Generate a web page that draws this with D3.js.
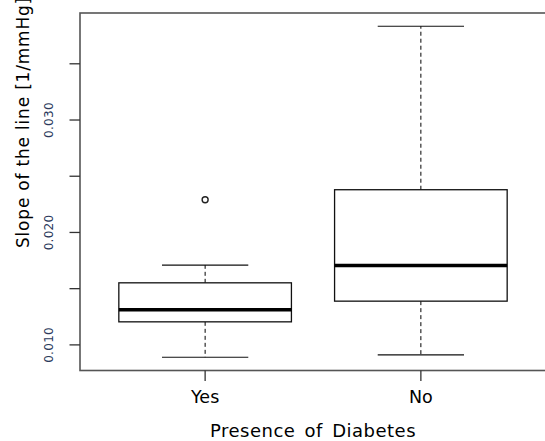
<!DOCTYPE html>
<html>
<head>
<meta charset="utf-8">
<script src="https://cdn.jsdelivr.net/npm/d3@7"></script>
<style>
  body { margin: 0; background: #fff; }
  text { font-family: "DejaVu Sans", sans-serif; }
</style>
</head>
<body>
<div id="chart"></div>
<script>
// data
const categories = ["Yes", "No"];
const whiskerLow = [0.00890, 0.00911];
const q1 = [0.01205, 0.01389];
const median = [0.01312, 0.01706];
const q3 = [0.01552, 0.02380];
const whiskerHigh = [0.01710, 0.03834];
const outliers = [[0.02291], []];
const yTicks = [0.010, 0.015, 0.020, 0.025, 0.030, 0.035];
const yTickLabels = ["0.010", "", "0.020", "", "0.030", ""];

const W = 545, H = 441;
const mLeft = 80, mRight = 546, mTop = 13, mBottom = 370.5;

const svg = d3.select("#chart").append("svg")
  .attr("width", W)
  .attr("height", H);

// R style: 4% padding on both axes
const lo = d3.min(whiskerLow), hi = d3.max([d3.max(whiskerHigh), d3.max(outliers.flat())]);
const pad = (hi - lo) * 0.04;
const y = d3.scaleLinear().domain([lo - pad, hi + pad]).range([mBottom, mTop]);
const x = d3.scaleLinear().domain([0.42, 2.58]).range([mLeft, mRight]);

const boxW = x(0.8) - x(0);
const capW = boxW / 2;

const g = svg.append("g");

categories.forEach((c, i) => {
  const cx = x(i + 1);
  // whiskers
  g.append("path")
    .attr("d", d3.line()([[cx, y(q3[i])], [cx, y(whiskerHigh[i])]]))
    .attr("stroke", "#000").attr("stroke-dasharray", "4,3").attr("fill", "none");
  g.append("path")
    .attr("d", d3.line()([[cx, y(q1[i])], [cx, y(whiskerLow[i])]]))
    .attr("stroke", "#000").attr("stroke-dasharray", "4,3").attr("fill", "none");
  // caps
  [whiskerHigh[i], whiskerLow[i]].forEach(v => {
    g.append("path")
      .attr("d", d3.line()([[cx - capW / 2, y(v)], [cx + capW / 2, y(v)]]))
      .attr("stroke", "#111").attr("stroke-width", 1.2);
  });
  // box
  g.append("rect")
    .attr("x", cx - boxW / 2)
    .attr("y", y(q3[i]))
    .attr("width", boxW)
    .attr("height", y(q1[i]) - y(q3[i]))
    .attr("fill", "#fff")
    .attr("stroke", "#111")
    .attr("stroke-width", 1.3);
  // median
  g.append("path")
    .attr("d", d3.line()([[cx - boxW / 2, y(median[i])], [cx + boxW / 2, y(median[i])]]))
    .attr("stroke", "#000").attr("stroke-width", 3.5);
  // outliers
  outliers[i].forEach(v => {
    g.append("circle")
      .attr("cx", cx).attr("cy", y(v)).attr("r", 3)
      .attr("fill", "none").attr("stroke", "#222").attr("stroke-width", 1.4);
  });
});

// frame
svg.append("rect")
  .attr("x", mLeft).attr("y", mTop)
  .attr("width", mRight - mLeft).attr("height", mBottom - mTop)
  .attr("fill", "none").attr("stroke", "#555").attr("stroke-width", 1.6);

// y axis
yTicks.forEach((t, i) => {
  svg.append("path")
    .attr("d", d3.line()([[mLeft - 10.5, y(t)], [mLeft, y(t)]]))
    .attr("stroke", "#333").attr("stroke-width", 1.3);
  if (yTickLabels[i]) {
    svg.append("text")
      .text(yTickLabels[i])
      .attr("transform", "translate(53," + y(t) + ") rotate(-90)")
      .attr("text-anchor", "middle")
      .attr("font-size", 12)
      .attr("letter-spacing", 0.3)
      .attr("fill", "#2b3a5c");
  }
});

// x axis
categories.forEach((c, i) => {
  svg.append("path")
    .attr("d", d3.line()([[x(i + 1), mBottom], [x(i + 1), mBottom + 10.5]]))
    .attr("stroke", "#333").attr("stroke-width", 1.3);
  svg.append("text")
    .text(c)
    .attr("x", x(i + 1))
    .attr("y", 403)
    .attr("text-anchor", "middle")
    .attr("font-size", 17.5);
});

svg.append("text")
  .text("Presence of Diabetes")
  .attr("x", (mLeft + mRight) / 2)
  .attr("y", 437)
  .attr("text-anchor", "middle")
  .attr("font-size", 18)
  .attr("letter-spacing", 0.5)
  .attr("word-spacing", 3);

svg.append("text")
  .text("Slope of the line [1/mmHg]")
  .attr("transform", "translate(29,248) rotate(-90)")
  .attr("font-size", 17)
  .attr("letter-spacing", 0.8);
</script>
</body>
</html>
